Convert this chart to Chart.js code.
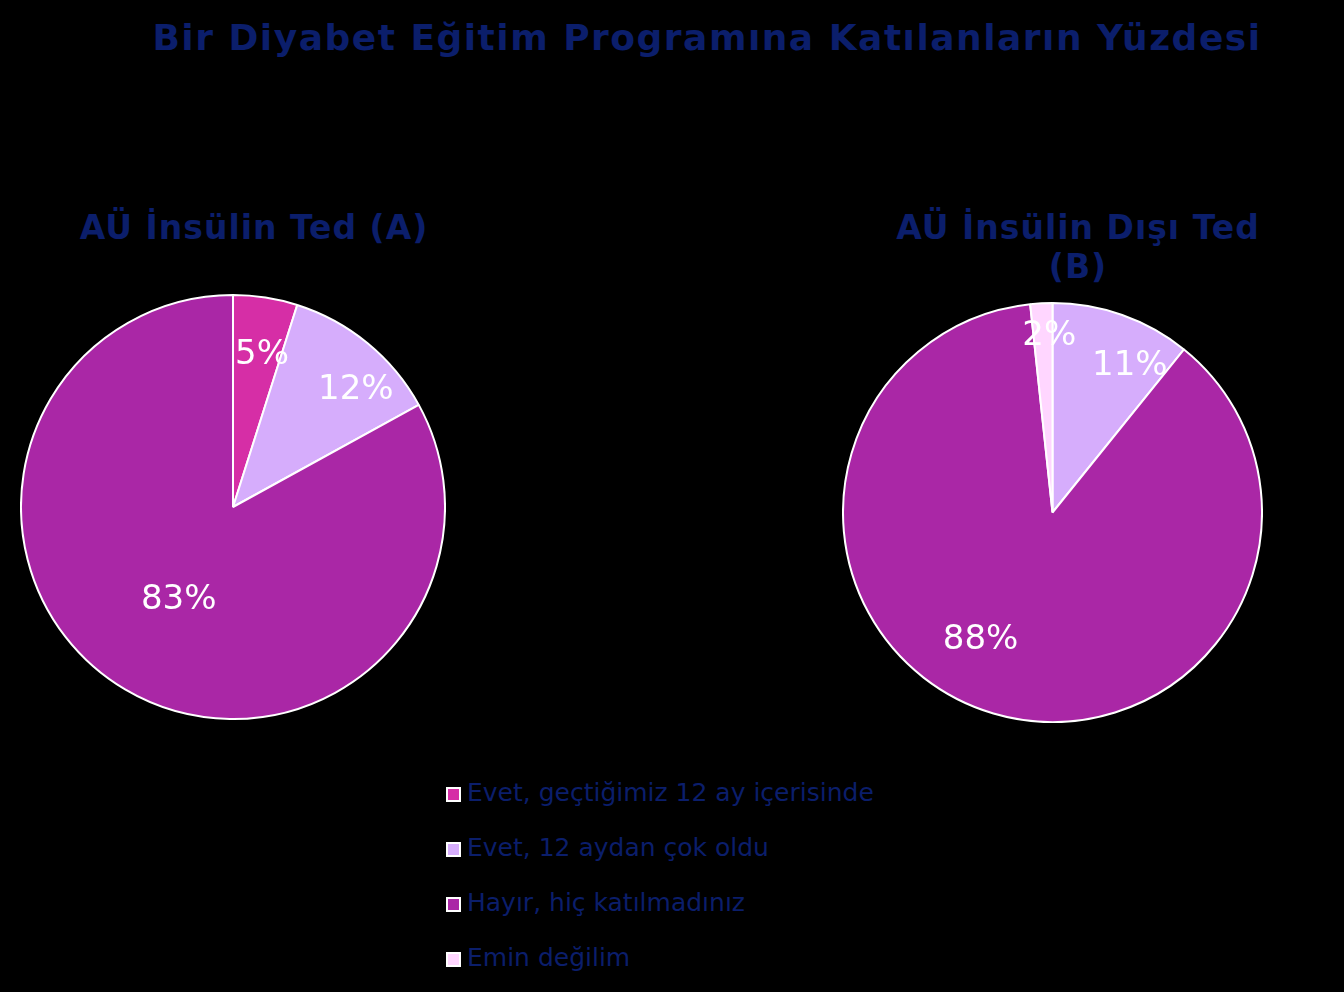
<!DOCTYPE html>
<html>
<head>
<meta charset="utf-8">
<script src="https://cdn.jsdelivr.net/npm/chart.js@4/dist/chart.umd.min.js"></script>
<style>
  body { margin: 0; background: #000; width: 1344px; height: 992px; position: relative; overflow: hidden;
         font-family: "DejaVu Sans", Verdana, sans-serif; }
  .title { position: absolute; left: 0; width: 1414px; top: 17px; text-align: center; color: #0b1e6b;
           font-weight: bold; font-size: 36px; letter-spacing: 1.5px; }
  .sub { position: absolute; color: #0b1e6b; font-weight: bold; font-size: 33px; letter-spacing: 1px;
         text-align: center; line-height: 39px; }
  .pie { position: absolute; }
  #legend { position: absolute; left: 446px; top: 778px; }
  .item { height: 55px; display: flex; align-items: flex-start; color: #0b1e6b; font-size: 25px; }
  .box { width: 11px; height: 11px; border: 2px solid #fff; margin: 9px 6px 0 0; }
</style>
</head>
<body>
<div class="title">Bir Diyabet Eğitim Programına Katılanların Yüzdesi</div>
<div class="sub" style="left:54px; width:400px; top:208px;">AÜ İnsülin Ted (A)</div>
<div class="sub" style="left:878px; width:400px; top:208px;">AÜ İnsülin Dışı Ted<br>(B)</div>
<div class="pie" style="left:20px; top:294px; width:426px; height:426px;"><canvas id="pieA"></canvas></div>
<div class="pie" style="left:842px; top:302px; width:421px; height:421px;"><canvas id="pieB"></canvas></div>
<div id="legend"></div>
<script>
const categories = ["Evet, geçtiğimiz 12 ay içerisinde", "Evet, 12 aydan çok oldu", "Hayır, hiç katılmadınız", "Emin değilim"];
const colors = ["#d62ea6", "#d6adfc", "#aa27a6", "#ffd6ff"];
const valuesA = [4.9, 12.1, 83, 0];
const valuesB = [0, 10.8, 87.5, 1.7];

// label placement tweaks (angle shift in degrees, radius fraction), like Excel best fit
const labelPosA = [[2, 0.73], [7, 0.80], [-0.5, 0.51], [0, 0.7]];
const labelPosB = [[0, 0.7], [8.4, 0.79], [13, 0.70], [2, 0.84]];

const sliceLabels = {
  id: "sliceLabels",
  afterDatasetsDraw(chart, args, opts) {
    const ctx = chart.ctx;
    const meta = chart.getDatasetMeta(0);
    const data = chart.data.datasets[0].data;
    ctx.save();
    ctx.fillStyle = "#fff";
    ctx.font = "34px 'DejaVu Sans'";
    ctx.textAlign = "center";
    ctx.textBaseline = "middle";
    meta.data.forEach((arc, i) => {
      if (!data[i]) return;
      const p = arc.getProps(["x", "y", "startAngle", "endAngle", "outerRadius"], true);
      const a = (p.startAngle + p.endAngle) / 2 + opts.pos[i][0] * Math.PI / 180;
      const r = p.outerRadius * opts.pos[i][1];
      ctx.fillText(Math.round(data[i]) + "%", p.x + Math.cos(a) * r, p.y + Math.sin(a) * r);
    });
    ctx.restore();
  }
};

function makePie(id, values, pos) {
  new Chart(document.getElementById(id), {
    type: "pie",
    data: {
      labels: categories,
      datasets: [{ data: values, backgroundColor: colors, borderColor: "#fff", borderWidth: 2 }]
    },
    options: {
      responsive: true,
      maintainAspectRatio: false,
      animation: false,
      layout: { padding: 0 },
      plugins: {
        legend: { display: false },
        tooltip: { enabled: false },
        sliceLabels: { pos: pos }
      }
    },
    plugins: [sliceLabels]
  });
}

makePie("pieA", valuesA, labelPosA);
makePie("pieB", valuesB, labelPosB);

const legend = document.getElementById("legend");
categories.forEach((c, i) => {
  const row = document.createElement("div");
  row.className = "item";
  row.innerHTML = `<div class="box" style="background:${colors[i]}"></div><span>${c}</span>`;
  legend.appendChild(row);
});
</script>
</body>
</html>
